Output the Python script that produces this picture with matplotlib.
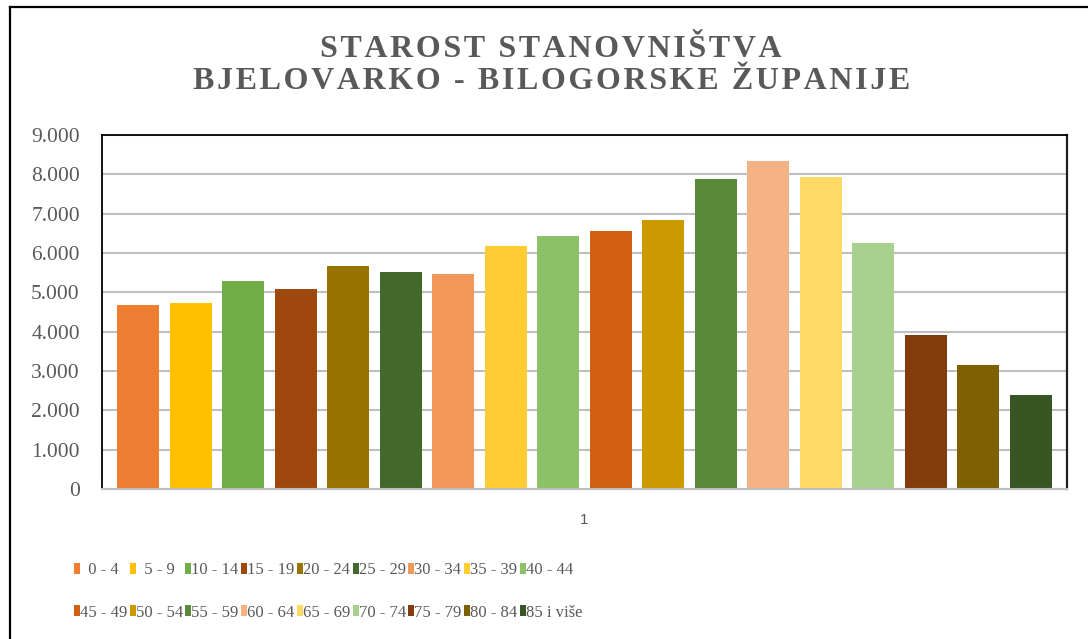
import matplotlib
matplotlib.use("Agg")
from matplotlib import pyplot as plt
from matplotlib.lines import Line2D

# data
age_groups = ["  0 - 4", "  5 - 9", "10 - 14", "15 - 19", "20 - 24", "25 - 29",
              "30 - 34", "35 - 39", "40 - 44", "45 - 49", "50 - 54", "55 - 59",
              "60 - 64", "65 - 69", "70 - 74", "75 - 79", "80 - 84", "85 i više"]
population = [4680, 4730, 5290, 5085, 5670, 5515, 5465, 6180, 6435, 6560,
              6840, 7880, 8340, 7935, 6255, 3915, 3155, 2390]
colors = ["#ED7D31", "#FFC000", "#70AD47", "#9E480E", "#997300", "#43682B",
          "#F1975A", "#FFCD33", "#8CC168", "#D26012", "#CC9A00", "#5A8A39",
          "#F4B183", "#FFD966", "#A9D18E", "#843C0C", "#7F6000", "#375623"]
y_ticks = [0, 1000, 2000, 3000, 4000, 5000, 6000, 7000, 8000, 9000]
y_tick_labels = ["0", "1.000", "2.000", "3.000", "4.000", "5.000",
                 "6.000", "7.000", "8.000", "9.000"]

serif = ["Liberation Serif", "DejaVu Serif"]
grey = "#595959"

fig = plt.figure(figsize=(10.88, 6.39), dpi=100)
ax = fig.add_axes([0.09375, 0.2347, 0.887, 0.554])

handles = []
for i, (lab, val, col) in enumerate(zip(age_groups, population, colors)):
    b = ax.bar(i, val, width=0.8, color=col, label=lab, zorder=2)
    handles.append(b)

ax.set_xlim(-0.69, 17.69)
ax.set_ylim(0, 9000)
ax.set_yticks(y_ticks)
ax.set_yticklabels(y_tick_labels, fontfamily=serif, fontsize=15.5, color=grey)
ax.set_xticks([8.5])
ax.set_xticklabels(["1"], fontfamily=["Liberation Sans", "DejaVu Sans"],
                   fontsize=11, color=grey)
ax.tick_params(axis="y", length=0, pad=16)
ax.tick_params(axis="x", length=0, pad=17)
ax.yaxis.grid(True, color="#BFBFBF", linewidth=1.5, zorder=0)
ax.set_axisbelow(True)

for side in ["top", "left"]:
    ax.spines[side].set_color("black")
    ax.spines[side].set_linewidth(1.3)
ax.spines["right"].set_color("#202020")
ax.spines["right"].set_linewidth(1.6)
ax.spines["bottom"].set_color("#BFBFBF")
ax.spines["bottom"].set_linewidth(1.5)

# spaced-out title (hair spaces between letters)
def spaced(s):
    return "\u200a".join(s)

fig.text(0.5066, 0.9225, spaced("STAROST STANOVNIŠTVA"), ha="center", va="center",
         fontfamily=serif, fontweight="bold", fontsize=23, color=grey)
fig.text(0.5066, 0.872, spaced("BJELOVARKO - BILOGORSKE ŽUPANIJE"), ha="center",
         va="center", fontfamily=serif, fontweight="bold", fontsize=23, color=grey)

# legend, ordered row by row
order = []
for j in range(9):
    order += [j, j + 9]
leg = fig.legend([handles[k] for k in order], [age_groups[k] for k in order],
                 ncol=9, loc="upper left", bbox_to_anchor=(0.068, 0.1205),
                 frameon=False, prop={"family": serif, "size": 12},
                 handlelength=0.36, handleheight=0.65, handletextpad=0.0,
                 columnspacing=0.15, labelspacing=1.6,
                 borderpad=0, borderaxespad=0)
for t in leg.get_texts():
    t.set_color(grey)

# outer frame (top and left)
fig.add_artist(Line2D([10 / 1088, 1], [1 - 7 / 639, 1 - 7 / 639],
                      transform=fig.transFigure, color="black", linewidth=1.6))
fig.add_artist(Line2D([10 / 1088, 10 / 1088], [0, 1 - 7 / 639],
                      transform=fig.transFigure, color="black", linewidth=1.6))

fig.savefig("out.png", dpi=100)
